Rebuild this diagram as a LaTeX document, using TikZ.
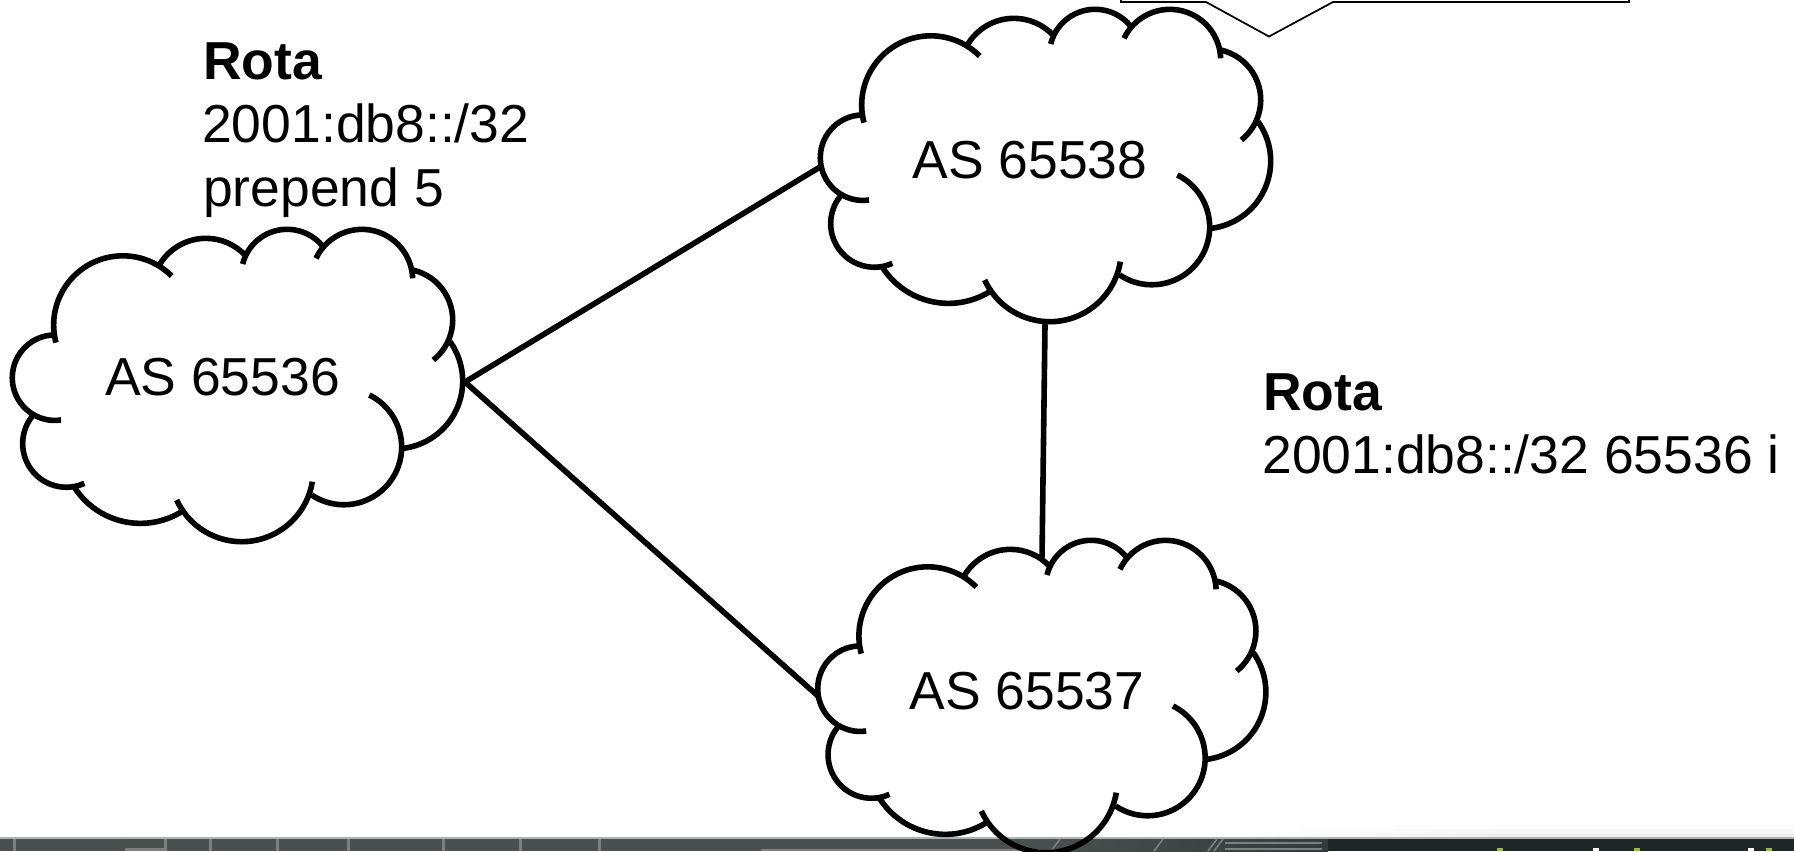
\documentclass[tikz,border=0pt]{standalone}
\usepackage{fontspec}
\setmainfont{Liberation Sans}
\definecolor{barA}{HTML}{4A4F4F}
\definecolor{barB}{HTML}{1F2627}
\definecolor{barL}{HTML}{7C8080}
\definecolor{spotG}{HTML}{9DB93C}
% arc through three points (given in zoom units)
\newcommand{\lobearc}[6]{%
  \pgfmathsetmacro{\lax}{#1/100}\pgfmathsetmacro{\lay}{#2/100}%
  \pgfmathsetmacro{\lbx}{#3/100}\pgfmathsetmacro{\lby}{#4/100}%
  \pgfmathsetmacro{\lcx}{#5/100}\pgfmathsetmacro{\lcy}{#6/100}%
  \pgfmathsetmacro{\ld}{2*(\lax*(\lby-\lcy)+\lbx*(\lcy-\lay)+\lcx*(\lay-\lby))}%
  \pgfmathsetmacro{\lsa}{\lax*\lax+\lay*\lay}%
  \pgfmathsetmacro{\lsb}{\lbx*\lbx+\lby*\lby}%
  \pgfmathsetmacro{\lsc}{\lcx*\lcx+\lcy*\lcy}%
  \pgfmathsetmacro{\lux}{(\lsa*(\lby-\lcy)+\lsb*(\lcy-\lay)+\lsc*(\lay-\lby))/\ld}%
  \pgfmathsetmacro{\luy}{(\lsa*(\lcx-\lbx)+\lsb*(\lax-\lcx)+\lsc*(\lbx-\lax))/\ld}%
  \pgfmathsetmacro{\lr}{100*sqrt((\lax-\lux)*(\lax-\lux)+(\lay-\luy)*(\lay-\luy))}%
  \pgfmathsetmacro{\laa}{atan2(\lay-\luy,\lax-\lux)}%
  \pgfmathsetmacro{\lab}{atan2(\lby-\luy,\lbx-\lux)}%
  \pgfmathsetmacro{\lac}{atan2(\lcy-\luy,\lcx-\lux)}%
  \pgfmathsetmacro{\ldb}{Mod(\lab-\laa,360)}%
  \pgfmathsetmacro{\ldc}{Mod(\lac-\laa,360)}%
  \pgfmathsetmacro{\lsweep}{\ldb<\ldc ? \ldc : \ldc-360}%
  \draw[lobeline] (#1,#2) arc[start angle=\laa,delta angle=\lsweep,radius=\lr];%
}
\tikzset{
  px/.style={x=.75pt,y=-.75pt},
  lobeline/.style={line width=4.2pt,line cap=butt},
  link/.style={line width=4.2pt,line cap=round},
  label/.style={font=\fontsize{40.1pt}{47pt}\selectfont,inner sep=0pt,anchor=base west},
  astext/.style={font=\fontsize{40.1pt}{47pt}\selectfont,inner sep=0pt,anchor=base},
  callout/.style={line width=1.3pt,line join=miter},
  cloudshape/.pic={
    \begin{scope}[x=.25pt,y=-.25pt]
      \lobearc{183}{600}{37}{465}{158}{345}
      \lobearc{168}{368}{225}{165}{515}{168}
      \lobearc{478}{135}{620}{55}{735}{105}
      \lobearc{728}{132}{855}{28}{965}{75}
      \lobearc{948}{115}{1085}{28}{1238}{175}
      \lobearc{1238}{150}{1358}{295}{1300}{420}
      \lobearc{1350}{365}{1388}{480}{1210}{685}
      \lobearc{1108}{525}{1205}{680}{935}{825}
      \lobearc{937}{785}{730}{965}{530}{840}
      \lobearc{545}{875}{425}{910}{222}{800}
      \lobearc{253}{790}{68}{670}{100}{585}
    \end{scope}
  }
}
\begin{document}
\begin{tikzpicture}[px]
\useasboundingbox (0,0) rectangle (1794,851);
\fill[white] (0,0) rectangle (1794,851);
\shade[left color=white,right color=black!1] (1250,825) rectangle (1500,829);
\fill[black!1] (1500,825) rectangle (1794,829);
\shade[left color=white,right color=black!3] (1250,829) rectangle (1500,833);
\fill[black!3] (1500,829) rectangle (1794,833);
\shade[left color=white,right color=black!6] (1250,833) rectangle (1500,837.5);
\fill[black!6] (1500,833) rectangle (1794,837.5);
% bottom bar
\fill[barA] (0,838) rectangle (1328,851);
\shade[left color=barA,right color=barA!50!barB] (1040,838) rectangle (1328,851);
\fill[barB] (1328,838) rectangle (1794,851);
\fill[barL!60!white] (0,837) rectangle (1794,838.5);
\foreach \xx in {13,209,276,347,442,519,598}{\fill[barL] (\xx,839) rectangle (\xx+2.5,851);}
\fill[black!70] (123,839) rectangle (166,841);
\fill[barL] (164,839) rectangle (166.5,851);
\fill[barL] (125,848) rectangle (166,851);
\fill[barL] (761,849) rectangle (1040,851);
\foreach \xx in {1051,1154,1208,1214}{\draw[barL,line width=1.2pt] (\xx,851) -- (\xx+9,839);}
\fill[barL] (1225,842) rectangle (1322,844);
\fill[barL] (1225,848) rectangle (1322,850);
\foreach \xx in {1497,1634,1766}{\fill[spotG] (\xx,848) rectangle (\xx+6,851);}
\foreach \xx in {1593,1748}{\fill[white] (\xx,848) rectangle (\xx+6,851);}
% callout
\draw[callout] (1121,-2) -- (1121,2) -- (1206,2) -- (1269,36.5) -- (1333,2) -- (1629,2) -- (1629,-2);
% clouds
\pic at (0,220) {cloudshape};
\pic at (808,0) {cloudshape};
\pic[xscale=.995] at (805.5,531) {cloudshape};
% text nodes
\node[astext] (as1) at (222.5,395) {AS 65536};
\node[astext] (as2) at (1030,178) {AS 65538};
\node[astext] (as3) at (1027,709) {AS 65537};
\node[label] (r1) at (203,79) {\textbf{Rota}};
\node[label] (r1a) at (202,142) {2001:db8::/32};
\node[label] (r1b) at (203,206) {prepend 5};
\node[label] (r2) at (1263,410) {\textbf{Rota}};
\node[label] (r2a) at (1262,473) {2001:db8::/32 65536 i};
% connector ends
\coordinate (e1) at (465,382);
\coordinate (w2) at (820,167);
\coordinate (w3) at (818,696);
\coordinate (s2) at (1045,325);
\coordinate (n3) at (1042,557);
\draw[link] (e1) -- (w2);
\draw[link] (e1) -- (w3);
\draw[link] (s2) -- (n3);
\end{tikzpicture}
\end{document}
